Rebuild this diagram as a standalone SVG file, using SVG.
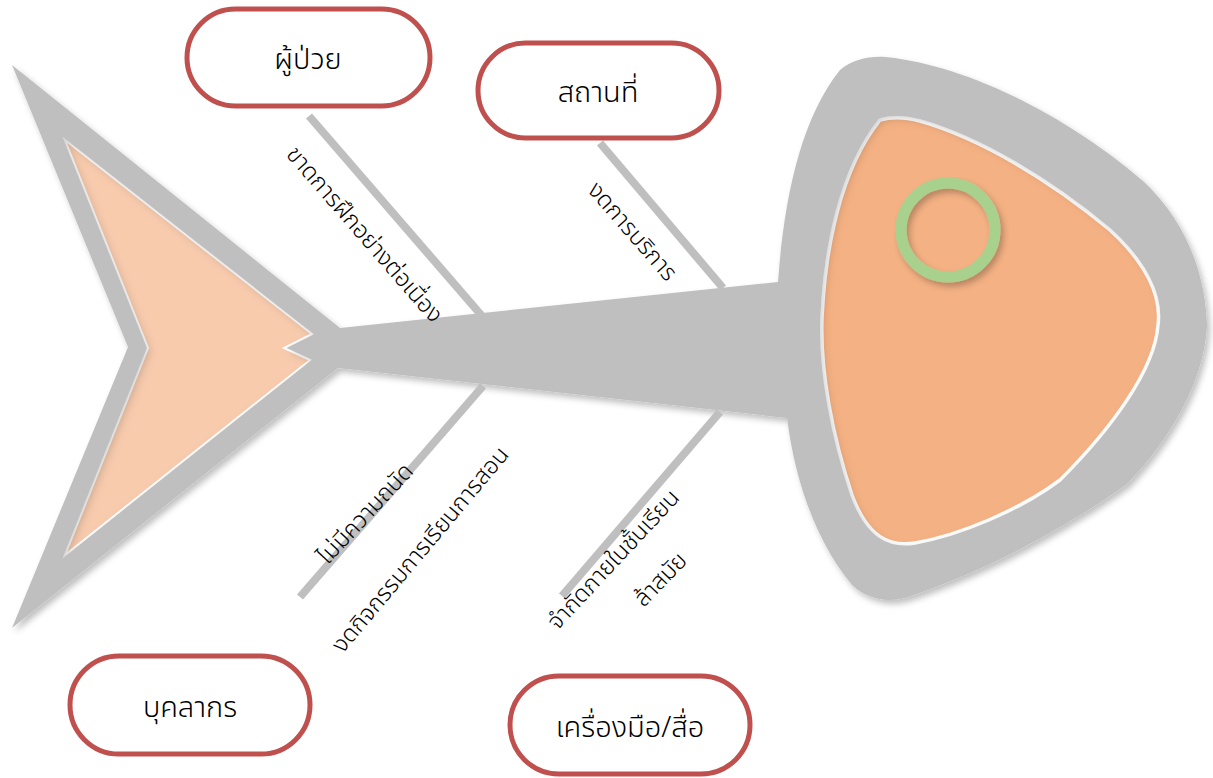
<svg xmlns="http://www.w3.org/2000/svg" width="1213" height="778" viewBox="0 0 1213 778">
<style>
.bone{stroke:#BFBFBF;stroke-width:8;stroke-linecap:butt;fill:none}
.box{fill:#FFFFFF;stroke:#C0504D;stroke-width:5}
.t{font-family:"Noto Sans Thai","Noto Sans","DejaVu Sans",sans-serif;fill:#000000;font-weight:300}
.title{font-size:29px;text-anchor:middle;dominant-baseline:central}
.cause{font-size:23.5px;text-anchor:middle;dominant-baseline:central}
</style>
<defs>
<filter id="drop" x="-10%" y="-10%" width="130%" height="130%">
<feGaussianBlur in="SourceAlpha" stdDeviation="3"/>
<feOffset dx="3" dy="4" result="b"/>
<feFlood flood-color="#000000" flood-opacity="0.25"/>
<feComposite in2="b" operator="in"/>
<feMerge><feMergeNode/><feMergeNode in="SourceGraphic"/></feMerge>
</filter>
<filter id="inner" x="-5%" y="-5%" width="110%" height="110%">
<feFlood flood-color="#000000" flood-opacity="0.35" result="f"/>
<feComposite in="f" in2="SourceAlpha" operator="out" result="inv"/>
<feGaussianBlur in="inv" stdDeviation="4"/>
<feOffset dx="3" dy="3" result="sh"/>
<feComposite in="sh" in2="SourceAlpha" operator="in" result="clip"/>
<feMerge><feMergeNode in="SourceGraphic"/><feMergeNode in="clip"/></feMerge>
</filter>
</defs>

<g id="fish-body" filter="url(#drop)">
<path fill="#BFBFBF" d="M12,65 L340,328 L778,282 C784,200 800,120 840,70 C852,60 868,56 885,57 C960,64 1060,110 1143,181 C1180,215 1205,265 1207,325 C1205,380 1170,440 1127,484 C1070,525 990,570 905,598 C885,603 866,598 852,585 C815,540 795,480 787,418 L338,368 L12,628 L128,347 Z"/>
</g>

<g id="tail">
<path fill="#F8CBAD" stroke="#FFFFFF" stroke-width="2" filter="url(#inner)" d="M65,140 L312,334 L284,348 L310,360 L65,555 L148,348 Z"/>
</g>

<g id="head">
<path fill="#F4B183" stroke="#FFFFFF" stroke-width="3.5" filter="url(#inner)" d="M880,120 C893,116 905,117 920,121 C980,138 1050,180 1110,230 C1145,262 1162,295 1158,325 C1155,370 1110,430 1060,480 C1020,510 960,535 915,543 C890,547 868,538 852,495 C832,435 820,370 822,318 C825,250 840,170 880,120 Z"/>
</g>

<g id="eye">
<circle cx="948" cy="230" r="47" fill="none" stroke="#A9D18E" stroke-width="11" filter="url(#drop)"/>
</g>

<g id="connectors">
<line class="bone" x1="309" y1="116" x2="482" y2="316"/>
<line class="bone" x1="600" y1="143" x2="723" y2="288"/>
<line class="bone" x1="483" y1="386" x2="300" y2="597"/>
<line class="bone" x1="720" y1="412" x2="562" y2="596"/>
</g>

<g id="node-patient">
<rect class="box" x="187" y="9" width="243" height="97" rx="48.5"/>
<text class="t title" x="308" y="60">ผู้ป่วย</text>
</g>
<g id="node-place">
<rect class="box" x="478" y="43" width="241" height="95" rx="47.5"/>
<text class="t title" x="598" y="93">สถานที่</text>
</g>
<g id="node-staff">
<rect class="box" x="70" y="656" width="240" height="98" rx="49"/>
<text class="t title" x="190" y="708">บุคลากร</text>
</g>
<g id="node-tools">
<rect class="box" x="510" y="676" width="240" height="98" rx="49"/>
<text class="t title" x="630" y="728">เครื่องมือ/สื่อ</text>
</g>

<g id="cause-labels">
<text class="t cause" transform="translate(364,235) rotate(49)">ขาดการฝึกอย่างต่อเนื่อง</text>
<text class="t cause" transform="translate(632,232) rotate(49)">งดการบริการ</text>
<text class="t cause" transform="translate(366,514) rotate(-47)">ไม่มีความถนัด</text>
<text class="t cause" transform="translate(421,550) rotate(-50)">งดกิจกรรมการเรียนการสอน</text>
<text class="t cause" transform="translate(614,560) rotate(-47)">จำกัดภายในชั้นเรียน</text>
<text class="t cause" transform="translate(661,580) rotate(-46)">ล้าสมัย</text>
</g>
</svg>
